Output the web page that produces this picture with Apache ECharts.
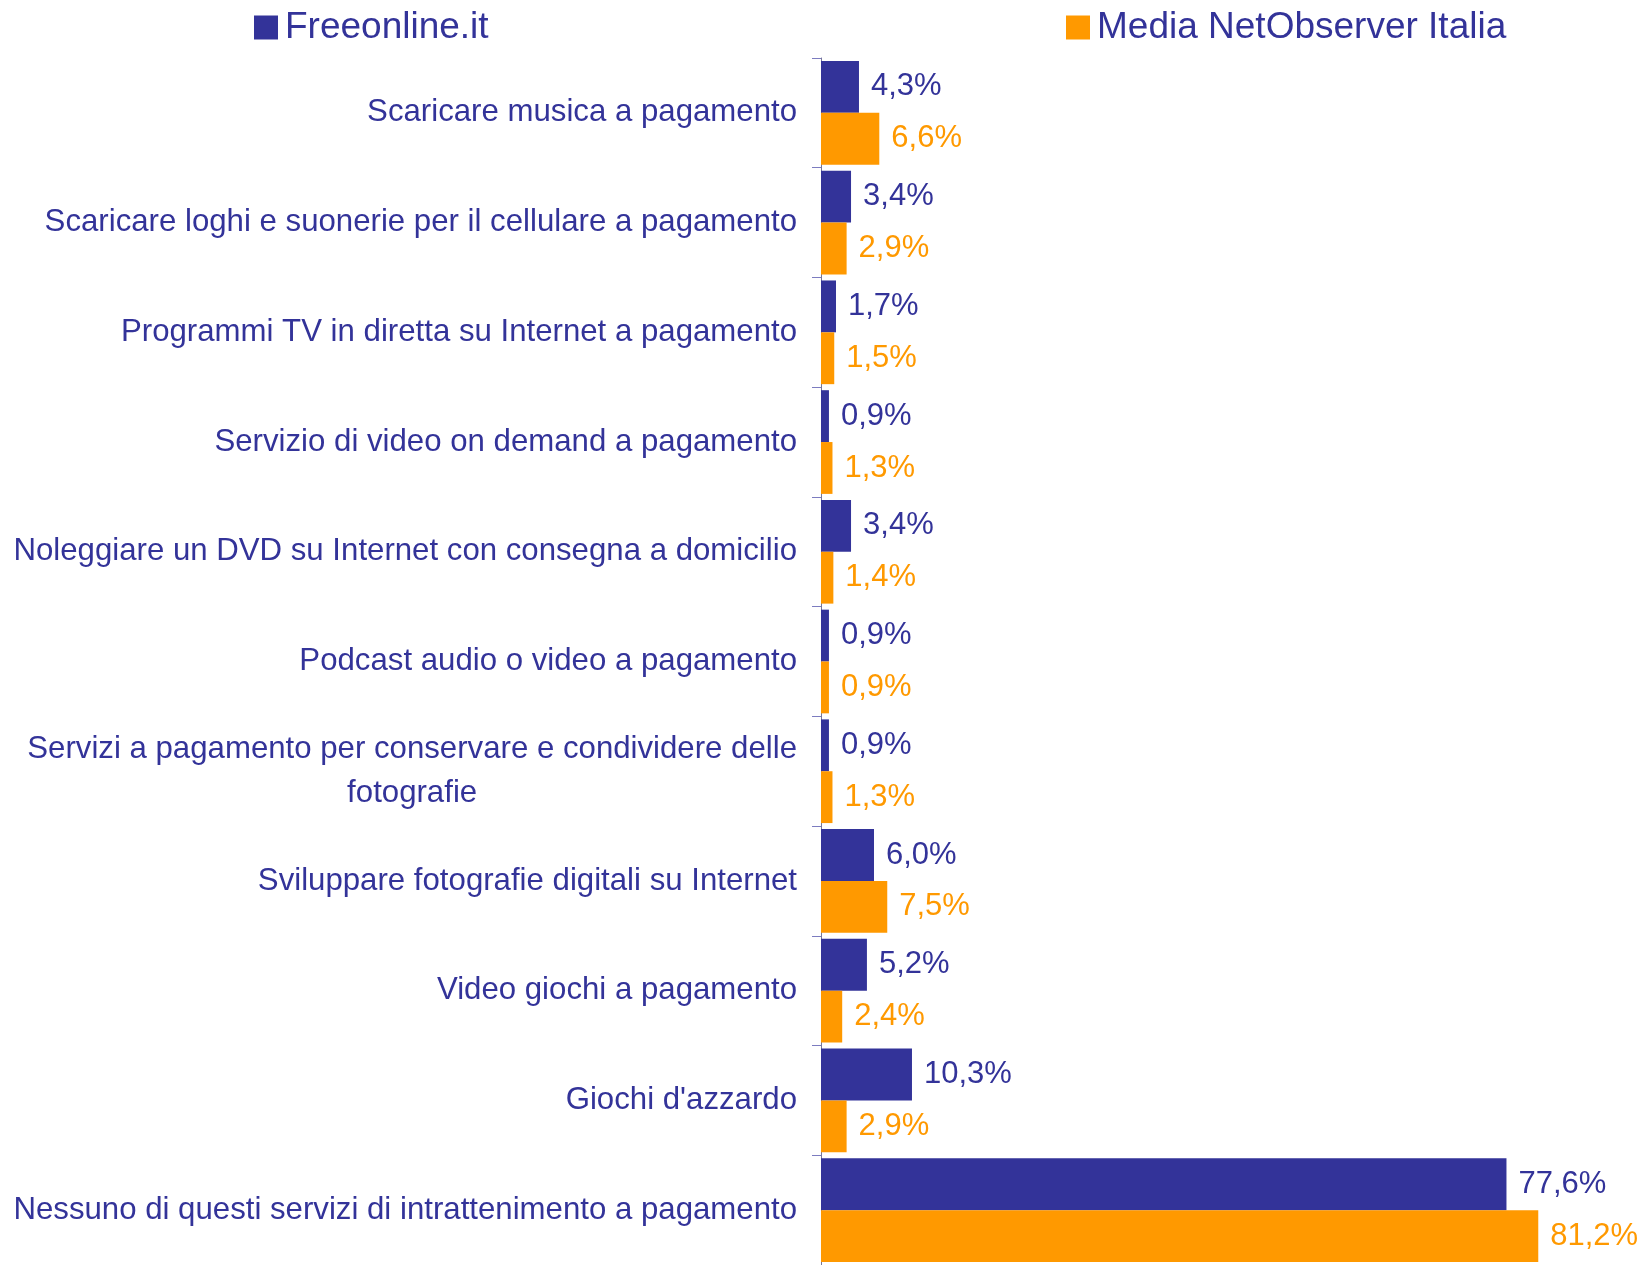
<!DOCTYPE html>
<html>
<head>
<meta charset="utf-8">
<script src="https://cdn.jsdelivr.net/npm/echarts@6/dist/echarts.min.js"></script>
<style>
  html, body { margin: 0; padding: 0; background: #fff; }
  #main { width: 1641px; height: 1265px; }
</style>
</head>
<body>
<div id="main"></div>
<script>
var categories = [
  'Scaricare musica a pagamento',
  'Scaricare loghi e suonerie per il cellulare a pagamento',
  'Programmi TV in diretta su Internet a pagamento',
  'Servizio di video on demand a pagamento',
  'Noleggiare un DVD su Internet con consegna a domicilio',
  'Podcast audio o video a pagamento',
  'Servizi a pagamento per conservare e condividere delle\nfotografie',
  'Sviluppare fotografie digitali su Internet',
  'Video giochi a pagamento',
  "Giochi d'azzardo",
  'Nessuno di questi servizi di intrattenimento a pagamento'
];
var freeonline = [4.3, 3.4, 1.7, 0.9, 3.4, 0.9, 0.9, 6.0, 5.2, 10.3, 77.6];
var netobserver = [6.6, 2.9, 1.5, 1.3, 1.4, 0.9, 1.3, 7.5, 2.4, 2.9, 81.2];

var BLUE = '#333399';
var ORANGE = '#ff9900';
var FONT = "'Liberation Sans', Arial, sans-serif";

function pct(p) {
  return p.value.toFixed(1).replace('.', ',') + '%';
}

var chart = echarts.init(document.getElementById('main'));
var option = {
  animation: false,
  textStyle: { fontFamily: FONT },
  legend: [
    {
      data: ['Freeonline.it'],
      left: 249, top: 4,
      itemWidth: 24, itemHeight: 24,
      icon: 'rect',
      textStyle: { color: BLUE, fontSize: 37, fontFamily: FONT, padding: [0, 0, 6, 2] }
    },
    {
      data: ['Media NetObserver Italia'],
      left: 1061, top: 4,
      itemWidth: 24, itemHeight: 24,
      icon: 'rect',
      textStyle: { color: BLUE, fontSize: 37, fontFamily: FONT, padding: [0, 0, 6, 2] }
    }
  ],
  grid: { left: 821, right: 25, top: 58, height: 1213, containLabel: false },
  xAxis: { type: 'value', min: 0, max: 90, show: false },
  yAxis: {
    type: 'category',
    inverse: true,
    data: categories,
    axisLine: { show: true, lineStyle: { color: '#77779a', width: 1 } },
    axisTick: { show: true, inside: false, length: 9, lineStyle: { color: '#7c7cc0', width: 1 } },
    axisLabel: {
      margin: 24,
      color: BLUE,
      fontSize: 31.2,
      fontFamily: FONT,
      lineHeight: 44,
      formatter: function (v) {
        return v.split('\n').map(function (s) { return '{c|' + s + '}'; }).join('\n');
      },
      rich: {
        c: { color: BLUE, fontSize: 31.2, fontFamily: FONT, lineHeight: 44, align: 'center' }
      }
    }
  },
  series: [
    {
      name: 'Freeonline.it',
      type: 'bar',
      data: freeonline,
      itemStyle: { color: BLUE },
      barGap: 0,
      barCategoryGap: '5.5%',
      label: { show: true, position: 'right', distance: 12, color: BLUE, fontSize: 31, fontFamily: FONT, formatter: pct }
    },
    {
      name: 'Media NetObserver Italia',
      type: 'bar',
      data: netobserver,
      itemStyle: { color: ORANGE },
      barGap: 0,
      barCategoryGap: '5.5%',
      label: { show: true, position: 'right', distance: 12, color: ORANGE, fontSize: 31, fontFamily: FONT, formatter: pct }
    }
  ]
};
chart.setOption(option);
</script>
</body>
</html>
